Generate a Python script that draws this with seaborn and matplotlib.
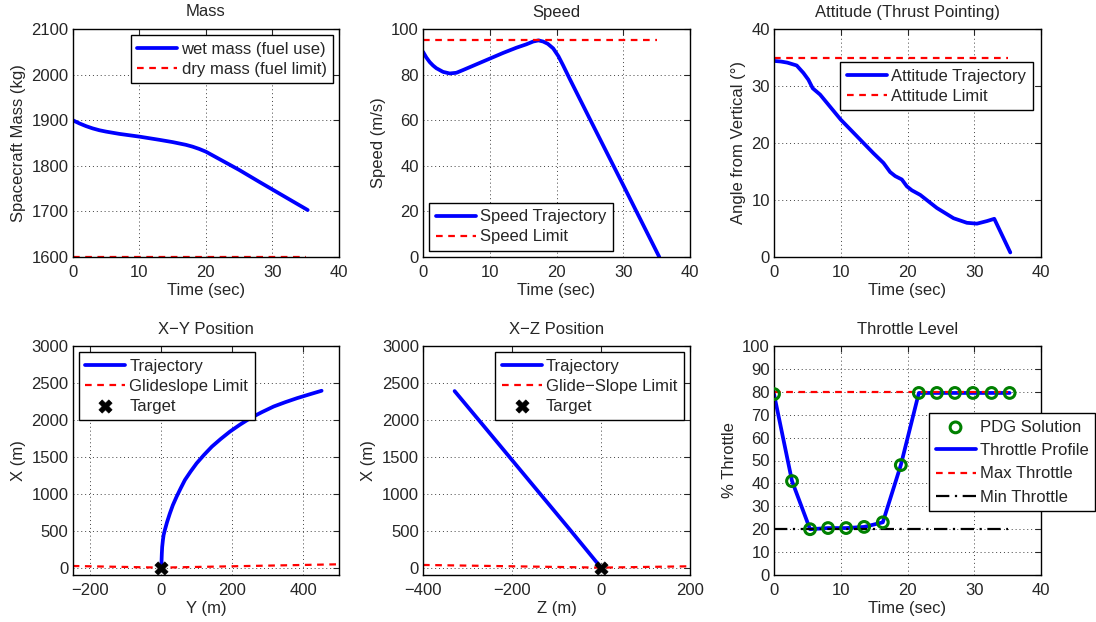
import matplotlib
matplotlib.use("Agg")
import matplotlib.pyplot as plt
import seaborn as sns
import pandas as pd

# ---------------- data ----------------
mass_t = [0, 1, 2, 3, 4, 5, 7, 10, 13, 15, 17, 18, 19, 20, 21, 22, 25, 28, 30, 32, 34, 35.3]
mass_wet = [1900, 1893, 1887, 1882, 1878, 1875, 1870, 1864, 1857, 1852, 1846, 1842, 1837, 1831,
            1823, 1815, 1791, 1765, 1748, 1731, 1714, 1703]
dry_t = [0, 35]
dry_mass = [1600, 1600]

speed_t = [0, 0.5, 1, 1.5, 2, 3, 4, 5, 6, 8, 10, 12, 14, 15.5, 16.5, 17.3, 18, 18.7, 19.5,
           20.3, 21, 22, 25, 30, 35.4]
speed_v = [90, 87.5, 85.5, 84, 82.8, 81.2, 80.5, 80.8, 82, 84.5, 87, 89.5, 91.8, 93.3, 94.5,
           95, 94.5, 93.5, 91.5, 88, 84, 78, 60.5, 31.5, 0]
speed_lim_t = [0, 35]
speed_lim = [95, 95]

att_t = [0, 1, 2, 3.4, 4.4, 5.15, 5.8, 6.9, 10, 14.9, 16.4, 17.4, 18.15, 19.15, 19.9, 20.65,
         21.9, 24.4, 26.9, 28.9, 30.4, 31.9, 33, 35.4]
att_v = [34.4, 34.3, 34.1, 33.6, 32.3, 31.1, 29.6, 28.5, 24.1, 18.2, 16.5, 14.9, 14.2, 13.6,
         12.4, 11.7, 10.9, 8.6, 6.8, 6.0, 5.85, 6.3, 6.7, 0.8]
att_lim_t = [0, 35]
att_lim = [35, 35]

xy_Y = [0, 0.3, 1, 2, 4, 6, 9.4, 16, 23.6, 32, 42.5, 54, 66, 82, 99, 120, 142, 167, 193,
        221, 250, 283, 316, 349, 382, 416, 451]
xy_X = [0, 100, 190, 280, 370, 440, 507, 620, 733, 845, 959, 1073, 1186, 1300, 1412, 1527,
        1638, 1742, 1842, 1935, 2023, 2105, 2181, 2240, 2294, 2344, 2394]
gs_y = [-250, 0, 500]
gs_xy = [22, 0, 45]

xz_Z = [0, -68, -137, -206, -275, -329]
xz_X = [0, 500, 1000, 1500, 2000, 2390]
gs_z = [-400, 0, 200]
gs_xz = [36, 0, 18]

target_h = [0]
target_v = [0]

thr_t = [0, 2.7, 5.4, 8.1, 10.8, 13.5, 16.3, 19.0, 21.7, 24.4, 27.1, 29.8, 32.6, 35.3]
thr_v = [79, 41, 20, 20.5, 20.5, 21, 23, 48, 79.5, 79.5, 79.5, 79.5, 79.5, 79.5]
thr_lim_t = [0, 35]
thr_max = [80, 80]
thr_min = [20, 20]

# ---------------- style ----------------
sns.set_style("white")
plt.rcParams["font.family"] = ["Liberation Sans", "DejaVu Sans"]
plt.rcParams["font.size"] = 12
plt.rcParams["axes.linewidth"] = 1.0

FS = 12
BLUE = (0, 0, 1)
RED = (1, 0, 0)
GREEN = (0, 0.5, 0)
LW = 2.7
DLW = 1.6

fig = plt.figure(figsize=(10.96, 6.22), dpi=100)
W, H = 1096, 622


def add_ax(l, t, r, b):
    return fig.add_axes([l / W, 1 - b / H, (r - l) / W, (b - t) / H])


ax1 = add_ax(72.7, 29, 339, 257)
ax2 = add_ax(423, 29, 690, 257)
ax3 = add_ax(774, 29, 1041, 257)
ax4 = add_ax(72.7, 346, 339, 575)
ax5 = add_ax(423, 346, 690, 575)
ax6 = add_ax(774, 346, 1041, 575)


def style(ax, title, xlabel, ylabel):
    ax.set_title(title, fontsize=FS, pad=9)
    ax.set_xlabel(xlabel, fontsize=FS, labelpad=2)
    ax.set_ylabel(ylabel, fontsize=FS, labelpad=4)
    ax.grid(True, linestyle=(0, (1, 3)), color="0.25", linewidth=0.7)
    ax.tick_params(direction="in", length=4, width=0.8, top=True, right=True,
                   labelsize=FS)
    ax.tick_params(axis="x", pad=6)
    ax.tick_params(axis="y", pad=3)
    for s in ax.spines.values():
        s.set_color("black")
        s.set_linewidth(1.0)


def leg(ax, pad=0.35, spacing=0.3, **kw):
    lg = ax.legend(fontsize=FS, frameon=True, fancybox=False, framealpha=1,
                   edgecolor="black", handlelength=2.4, handletextpad=0.25,
                   borderpad=0.4, labelspacing=spacing, borderaxespad=pad, **kw)
    lg.get_frame().set_linewidth(1.0)
    return lg


def line(ax, x, y, sort=True, **kw):
    df = pd.DataFrame({"x": x, "y": y})
    sns.lineplot(data=df, x="x", y="y", ax=ax, sort=sort, estimator=None, **kw)


# Mass
line(ax1, mass_t, mass_wet, color=BLUE, lw=LW, label="wet mass (fuel use)")
line(ax1, dry_t, dry_mass, color=RED, lw=DLW, ls=(0, (3, 2.5)), label="dry mass (fuel limit)")
ax1.set_xlim(0, 40)
ax1.set_ylim(1600, 2100)
ax1.set_xticks([0, 10, 20, 30, 40])
ax1.set_yticks([1600, 1700, 1800, 1900, 2000, 2100])
style(ax1, "Mass", "Time (sec)", "Spacecraft Mass (kg)")
leg(ax1, loc="upper right")

# Speed
line(ax2, speed_t, speed_v, color=BLUE, lw=LW, label="Speed Trajectory")
line(ax2, speed_lim_t, speed_lim, color=RED, lw=DLW, ls=(0, (3, 2.5)), label="Speed Limit")
ax2.set_xlim(0, 40)
ax2.set_ylim(0, 100)
ax2.set_xticks([0, 10, 20, 30, 40])
ax2.set_yticks([0, 20, 40, 60, 80, 100])
style(ax2, "Speed", "Time (sec)", "Speed (m/s)")
leg(ax2, loc="lower left")

# Attitude
line(ax3, att_t, att_v, color=BLUE, lw=LW, label="Attitude Trajectory")
line(ax3, att_lim_t, att_lim, color=RED, lw=DLW, ls=(0, (3, 2.5)), label="Attitude Limit")
ax3.set_xlim(0, 40)
ax3.set_ylim(0, 40)
ax3.set_xticks([0, 10, 20, 30, 40])
ax3.set_yticks([0, 10, 20, 30, 40])
style(ax3, "Attitude (Thrust Pointing)", "Time (sec)", "Angle from Vertical (°)")
leg(ax3, pad=0, loc="upper right", bbox_to_anchor=(0.97, 0.855))

# X-Y
line(ax4, xy_Y, xy_X, sort=False, color=BLUE, lw=LW, label="Trajectory")
line(ax4, gs_y, gs_xy, sort=False, color=RED, lw=DLW, ls=(0, (3, 2.5)), label="Glideslope Limit")
sns.scatterplot(x=target_h, y=target_v, ax=ax4, marker="X", s=90, color="black",
                edgecolor="black", linewidth=0.5, label="Target", zorder=5)
ax4.set_xlim(-250, 500)
ax4.set_ylim(-100, 3000)
ax4.set_xticks([-200, 0, 200, 400])
ax4.set_yticks([0, 500, 1000, 1500, 2000, 2500, 3000])
style(ax4, "X\u2212Y Position", "Y (m)", "X (m)")
ax4.set_xticklabels(["\u2212200", "0", "200", "400"])
leg(ax4, loc="upper left")

# X-Z
line(ax5, xz_Z, xz_X, sort=False, color=BLUE, lw=LW, label="Trajectory")
line(ax5, gs_z, gs_xz, sort=False, color=RED, lw=DLW, ls=(0, (3, 2.5)), label="Glide\u2212Slope Limit")
sns.scatterplot(x=target_h, y=target_v, ax=ax5, marker="X", s=90, color="black",
                edgecolor="black", linewidth=0.5, label="Target", zorder=5)
ax5.set_xlim(-400, 200)
ax5.set_ylim(-100, 3000)
ax5.set_xticks([-400, -200, 0, 200])
ax5.set_yticks([0, 500, 1000, 1500, 2000, 2500, 3000])
style(ax5, "X\u2212Z Position", "Z (m)", "X (m)")
ax5.set_xticklabels(["\u2212400", "\u2212200", "0", "200"])
leg(ax5, loc="upper right")

# Throttle
sns.scatterplot(x=thr_t, y=thr_v, ax=ax6, marker="o", s=60, facecolor="none",
                edgecolor=GREEN, linewidth=2.2, label="PDG Solution", zorder=5)
line(ax6, thr_t, thr_v, color=BLUE, lw=LW, label="Throttle Profile")
line(ax6, thr_lim_t, thr_max, color=RED, lw=DLW, ls=(0, (3, 2.5)), label="Max Throttle")
line(ax6, thr_lim_t, thr_min, color="black", lw=DLW, ls=(0, (6, 2.5, 1, 2.5)), label="Min Throttle")
ax6.set_xlim(0, 40)
ax6.set_ylim(0, 100)
ax6.set_xticks([0, 10, 20, 30, 40])
ax6.set_yticks(list(range(0, 101, 10)))
style(ax6, "Throttle Level", "Time (sec)", "% Throttle")
leg(ax6, pad=0, spacing=0.5, loc="upper left", bbox_to_anchor=(0.58, 0.707))

fig.savefig("out.png", dpi=100)
